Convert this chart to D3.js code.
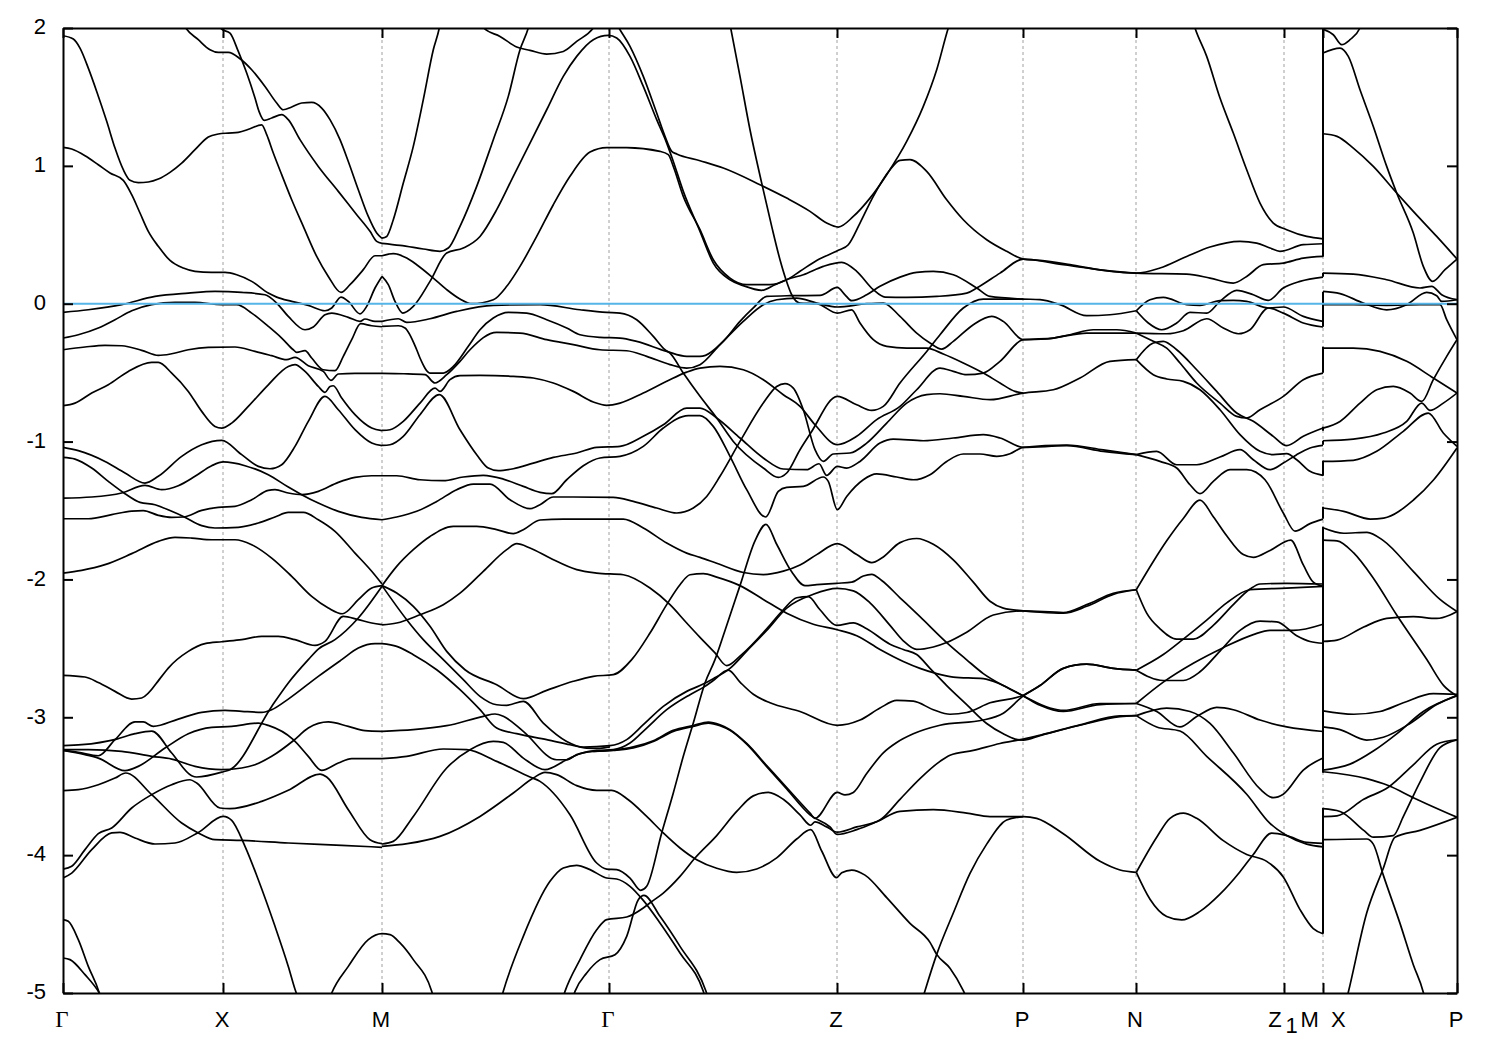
<!DOCTYPE html>
<html><head><meta charset="utf-8">
<style>html,body{margin:0;padding:0;background:#fff}svg{display:block}text{fill:#000}</style>
<script src="https://cdn.jsdelivr.net/npm/d3@7"></script>
</head><body><svg id="c" width="1500" height="1050"></svg>
<script>
const kTicks=[0,1.6,3.19,5.46,7.74,9.6,10.73,12.21,12.6,13.94];
const energyTicks=[-5,-4,-3,-2,-1,0,1,2];
const fermiLevel=0;
const jumps=[[2,.341],[.225,.196],[.087,-.167],[-.312,-.5],[-.892,-.921],[-.994,-1.023],[-1.139,-1.248],[-1.473,-1.56],[-1.618,-3.402],[-3.656,-4.57]];
const p1a=[[0,1.944],[.103,1.92],[.17,1.854],[.253,1.709],[.337,1.54],[.437,1.323],[.52,1.129],[.603,.972],[.67,.895],[.753,.878],[.853,.883],[.953,.904],[1.07,.953],[1.187,1.02],[1.32,1.117],[1.453,1.209],[1.553,1.231],[1.653,1.238],[1.753,1.243],[1.87,1.269],[1.987,1.298],[2.037,1.226],[2.103,1.093],[2.187,.936],[2.287,.754],[2.403,.561],[2.537,.343],[2.653,.198],[2.78,.082],[2.87,.138],[3.003,.247],[3.12,.348],[3.19,.348]];
const p1b=[[1.5,2.1],[1.587,1.992],[1.67,1.963],[1.753,1.83],[1.837,1.673],[1.92,1.492],[1.96,1.395],[2.013,1.33],[2.087,1.347],[2.187,1.371],[2.253,1.335],[2.37,1.19],[2.553,.996],[2.753,.815],[2.937,.646],[3.07,.525],[3.137,.452],[3.19,.438]];
const p1c=[[1.15,2.1],[1.22,2.007],[1.353,1.915],[1.47,1.842],[1.553,1.823],[1.653,1.823],[1.77,1.777],[1.887,1.697],[2.02,1.576],[2.137,1.456],[2.203,1.407],[2.287,1.427],[2.387,1.456],[2.487,1.46],[2.587,1.419],[2.67,1.335],[2.77,1.19],[2.853,1.032],[2.953,.827],[3.053,.633],[3.137,.513],[3.19,.474]];
const p1d=[[0,1.134],[.087,1.122],[.22,1.074],[.353,1.008],[.47,.948],[.603,.895],[.687,.791],[.77,.658],[.853,.525],[.953,.416],[1.07,.314],[1.203,.259],[1.32,.235],[1.487,.227],[1.62,.227],[1.737,.21],[1.887,.162],[2.053,.077],[2.137,.048],[2.287,.017],[2.453,-.012],[2.62,-.051],[2.687,-.031],[2.78,.048],[2.853,.017],[2.97,-.073],[3.037,-.019],[3.12,.114],[3.19,.198]];
const p1e=[[0,-.063],[.253,-.044],[.587,-.007],[.92,.053],[1.253,.077],[1.52,.089],[1.787,.082],[2.02,.065],[2.137,.005],[2.253,-.092],[2.42,-.189],[2.503,-.169],[2.62,-.08],[2.687,-.068],[2.853,-.099],[2.97,-.128],[3.02,-.111],[3.12,-.128],[3.19,-.128]];
const p1f=[[0,-.249],[.153,-.225],[.353,-.176],[.52,-.116],[.687,-.051],[.887,-.007],[1.12,.01],[1.32,.01],[1.587,-.007],[1.737,-.007],[1.887,-.068],[2.053,-.164],[2.187,-.249],[2.303,-.334],[2.337,-.353],[2.42,-.341],[2.487,-.394],[2.603,-.479],[2.72,-.486],[2.803,-.382],[2.887,-.261],[2.977,-.145],[3.087,-.16],[3.19,-.167]];
const p1g=[[0,-.334],[.22,-.314],[.42,-.302],[.587,-.305],[.787,-.338],[.953,-.375],[1.087,-.363],[1.253,-.334],[1.453,-.317],[1.72,-.314],[1.92,-.346],[2.087,-.377],[2.237,-.406],[2.32,-.389],[2.453,-.45],[2.603,-.491],[2.68,-.556],[2.753,-.51],[2.92,-.505],[3.19,-.505]];
const p1h=[[0,-.74],[.12,-.721],[.287,-.648],[.453,-.588],[.653,-.491],[.887,-.426],[.953,-.426],[1.087,-.503],[1.253,-.636],[1.387,-.781],[1.52,-.89],[1.587,-.902],[1.687,-.866],[1.853,-.745],[2.053,-.588],[2.253,-.455],[2.32,-.442],[2.42,-.491],[2.553,-.6],[2.62,-.643],[2.67,-.6],[2.703,-.595],[2.787,-.684],[2.92,-.805],[3.087,-.902],[3.19,-.921]];
const p1i=[[0,-1.042],[.153,-1.066],[.42,-1.144],[.62,-1.228],[.82,-1.301],[.953,-1.252],[1.187,-1.107],[1.387,-1.023],[1.587,-.991],[1.787,-1.095],[1.953,-1.18],[2.07,-1.197],[2.187,-1.168],[2.32,-1.035],[2.453,-.853],[2.62,-.672],[2.753,-.769],[2.92,-.914],[3.087,-1.011],[3.19,-1.03]];
const p1j=[[0,-1.115],[.12,-1.127],[.287,-1.192],[.453,-1.289],[.62,-1.378],[.77,-1.441],[.92,-1.458],[1.087,-1.506],[1.203,-1.543],[1.387,-1.61],[1.52,-1.627],[1.753,-1.622],[1.953,-1.591],[2.12,-1.547],[2.253,-1.514],[2.403,-1.514],[2.553,-1.567],[2.72,-1.651],[2.92,-1.809],[3.087,-1.941],[3.19,-2.033]];
const p1k=[[0,-1.41],[.287,-1.402],[.587,-1.373],[.82,-1.318],[.987,-1.349],[1.153,-1.32],[1.32,-1.252],[1.487,-1.175],[1.603,-1.148],[1.82,-1.175],[2.053,-1.24],[2.253,-1.33],[2.387,-1.385],[2.553,-1.446],[2.753,-1.506],[2.987,-1.55],[3.19,-1.567]];
const p1l=[[0,-1.56],[.253,-1.56],[.487,-1.53],[.687,-1.504],[.803,-1.501],[.953,-1.535],[1.087,-1.55],[1.203,-1.547],[1.387,-1.499],[1.553,-1.477],[1.72,-1.47],[1.887,-1.422],[2.053,-1.354],[2.12,-1.349],[2.253,-1.373],[2.387,-1.385],[2.553,-1.361],[2.753,-1.296],[2.92,-1.26],[3.087,-1.248],[3.19,-1.248]];
const p1m=[[0,-1.954],[.187,-1.934],[.42,-1.893],[.687,-1.813],[.953,-1.724],[1.12,-1.695],[1.287,-1.7],[1.487,-1.712],[1.72,-1.712],[1.887,-1.748],[2.087,-1.845],[2.287,-1.978],[2.487,-2.123],[2.653,-2.207],[2.793,-2.249],[2.953,-2.147],[3.087,-2.062],[3.19,-2.045]];
const p1n=[[0,-2.696],[.22,-2.708],[.353,-2.747],[.52,-2.812],[.687,-2.868],[.787,-2.86],[.987,-2.703],[1.053,-2.643],[1.253,-2.522],[1.42,-2.466],[1.587,-2.452],[1.787,-2.437],[1.987,-2.413],[2.153,-2.413],[2.32,-2.437],[2.52,-2.478],[2.62,-2.449],[2.803,-2.268],[2.953,-2.292],[3.087,-2.316],[3.19,-2.328]];
const p1o=[[0,-3.206],[.187,-3.199],[.537,-3.158],[.72,-3.119],[.887,-3.1],[1.087,-3.259],[1.287,-3.424],[1.337,-3.433],[1.603,-3.395],[1.67,-3.38],[2.087,-2.921],[2.253,-2.751],[2.453,-2.582],[2.553,-2.505],[2.72,-2.437],[2.953,-2.28],[3.19,-2.05]];
const p1p=[[0,-3.24],[.153,-3.254],[.353,-3.279],[.52,-3.162],[.72,-3.034],[.803,-3.034],[.903,-3.066],[1.153,-3.013],[1.387,-2.964],[1.62,-2.95],[1.787,-2.957],[1.987,-2.964],[2.087,-2.945],[2.253,-2.868],[2.553,-2.703],[2.787,-2.582],[2.953,-2.498],[3.12,-2.466],[3.19,-2.466]];
const p1q=[[0,-3.235],[.253,-3.235],[.587,-3.247],[.887,-3.283],[1.087,-3.303],[1.32,-3.356],[1.587,-3.38],[1.787,-3.368],[1.92,-3.344],[2.087,-3.283],[2.303,-3.17],[2.453,-3.078],[2.653,-3.034],[2.853,-3.066],[3.02,-3.097],[3.19,-3.102]];
const p1r=[[0,-3.24],[.22,-3.271],[.353,-3.296],[.62,-3.387],[.753,-3.356],[1.02,-3.223],[1.253,-3.119],[1.487,-3.073],[1.687,-3.066],[1.953,-3.042],[2.053,-3.059],[2.303,-3.162],[2.453,-3.283],[2.587,-3.385],[2.753,-3.332],[2.887,-3.3],[3.19,-3.3]];
const p1s=[[0,-3.532],[.153,-3.525],[.353,-3.489],[.52,-3.441],[.627,-3.404],[.887,-3.561],[1.187,-3.767],[1.353,-3.839],[1.52,-3.888],[1.787,-3.893],[2.253,-3.912],[2.787,-3.929],[3.19,-3.943]];
const p1t=[[0,-4.101],[.087,-4.081],[.22,-3.96],[.353,-3.844],[.487,-3.803],[.687,-3.658],[.887,-3.561],[1.087,-3.489],[1.27,-3.453],[1.337,-3.477],[1.57,-3.658],[1.67,-3.663],[1.987,-3.61],[2.253,-3.53],[2.57,-3.412],[2.637,-3.433],[2.853,-3.67],[3.07,-3.888],[3.19,-3.917]];
const p1u=[[0,-4.166],[.087,-4.13],[.287,-3.96],[.487,-3.839],[.57,-3.835],[.72,-3.876],[.92,-3.919],[1.12,-3.912],[1.353,-3.835],[1.603,-3.719],[1.687,-3.748],[1.82,-3.936],[1.953,-4.178],[2.12,-4.516],[2.253,-4.807],[2.327,-4.988],[2.37,-5.07]];
const p1v=[[0,-4.468],[.053,-4.48],[.153,-4.613],[.253,-4.807],[.363,-5],[.4,-5.1]];
const p1w=[[0,-4.746],[.07,-4.758],[.22,-4.867],[.363,-5],[.4,-5.05]];
const p1x=[[2.65,-5.07],[2.687,-5],[2.853,-4.807],[3.053,-4.613],[3.19,-4.57],[3.27,-4.577],[3.37,-4.637],[3.503,-4.758],[3.687,-4.988],[3.73,-5.1]];
const p2a=[[3.19,.476],[3.237,.488],[3.303,.609],[3.403,.875],[3.503,1.141],[3.603,1.48],[3.703,1.842],[3.763,2],[3.8,2.15]];
const p2b=[[3.19,.438],[3.37,.423],[3.603,.397],[3.77,.38],[3.853,.404],[3.97,.561],[4.137,.851],[4.303,1.19],[4.453,1.504],[4.57,1.842],[4.653,2],[4.69,2.1]];
const p2c=[[3.19,.348],[3.303,.363],[3.437,.331],[3.537,.283],[3.703,.186],[3.837,.102],[3.97,.034],[4.087,0],[4.303,.029],[4.437,.126],[4.57,.271],[4.737,.488],[4.903,.718],[5.07,.924],[5.27,1.1],[5.437,1.132],[5.637,1.132],[5.97,1.105],[6.053,1.081],[6.103,.996],[6.203,.779],[6.37,.537],[6.503,.319],[6.67,.186],[6.837,.138],[7.07,.138],[7.237,.174],[7.37,.235],[7.537,.314],[7.753,.387],[7.853,.428],[7.97,.585],[8.103,.779],[8.27,.972],[8.37,1.04],[8.47,1.045],[8.637,.96],[8.837,.754],[9.003,.609],[9.237,.464],[9.437,.38],[9.603,.324],[9.77,.314],[10.07,.283],[10.403,.242],[10.733,.222],[10.97,.259],[11.237,.343],[11.47,.411],[11.77,.452],[11.937,.44],[12.07,.404],[12.17,.38],[12.403,.428],[12.6,.435]];
const p2d=[[3.19,.198],[3.253,.138],[3.32,.017],[3.397,-.068],[3.503,-.019],[3.67,.162],[3.837,.368],[4.003,.404],[4.17,.488],[4.337,.682],[4.503,.924],[4.67,1.165],[4.837,1.407],[5.003,1.649],[5.137,1.794],[5.303,1.915],[5.453,1.946],[5.537,1.927],[5.67,1.794],[5.803,1.576],[5.937,1.335],[6.037,1.165],[6.103,1.032],[6.203,.815],[6.37,.525],[6.503,.295],[6.67,.174],[6.803,.131],[6.987,.097],[7.12,.138],[7.253,.179],[7.403,.21],[7.603,.271],[7.787,.3],[7.937,.235],[8.103,.102],[8.22,.048],[8.437,.046],[8.737,.053],[9.037,.077],[9.137,.114],[9.37,.222],[9.603,.324],[9.903,.295],[10.237,.259],[10.733,.222],[11.237,.215],[11.47,.186],[11.703,.15],[11.837,.198],[12.003,.283],[12.203,.295],[12.403,.331],[12.6,.343]];
const p2e=[[5.5,2.08],[5.56,2],[5.67,1.867],[5.803,1.649],[5.937,1.383],[6.02,1.214],[6.087,1.105],[6.137,1.086],[6.37,1.037],[6.603,.984],[6.97,.863],[7.237,.766],[7.47,.67],[7.637,.585],[7.753,.556],[7.903,.633],[8.07,.766],[8.237,.936],[8.437,1.177],[8.603,1.431],[8.737,1.697],[8.853,2],[8.9,2.1]];
const p2f=[[3.19,-.128],[3.353,-.109],[3.437,-.135],[3.67,-.109],[3.937,-.056],[4.303,-.012],[4.77,-.007],[5.17,-.044],[5.437,-.063],[5.57,-.068],[5.737,-.116],[5.903,-.237],[6.02,-.334],[6.07,-.358],[6.203,-.503],[6.37,-.672],[6.537,-.829],[6.703,-.999],[7.003,-1.192],[7.153,-1.26],[7.237,-1.228],[7.37,-1.059],[7.477,-.938],[7.743,-.672],[7.937,-.733],[8.087,-.774],[8.203,-.745],[8.37,-.575],[8.637,-.346],[8.77,-.225],[9.003,-.031],[9.203,.034],[9.603,.034]];
const p2g=[[3.19,-.164],[3.353,-.16],[3.42,-.176],[3.537,-.334],[3.57,-.394],[3.67,-.503],[3.803,-.503],[3.903,-.455],[4.053,-.309],[4.17,-.189],[4.303,-.104],[4.453,-.063],[4.637,-.068],[4.837,-.116],[5.037,-.176],[5.17,-.225],[5.37,-.244],[5.57,-.249],[5.737,-.273],[6.037,-.346],[6.237,-.382],[6.37,-.382],[6.603,-.273],[6.77,-.128],[6.903,-.031],[7.037,.053],[7.27,.058],[7.57,.06],[7.743,.118],[7.82,.065],[7.887,.022],[8.037,.065],[8.17,.126],[8.37,.193],[8.537,.227],[8.703,.235],[8.903,.21],[9.137,.114],[9.27,.053],[9.603,.034],[9.77,.029],[9.97,-.007],[10.237,-.087],[10.47,-.08],[10.733,-.051]];
const p2h=[[3.19,-.505],[3.407,-.508],[3.62,-.515],[3.72,-.575],[3.837,-.515],[3.97,-.418],[4.07,-.334],[4.337,-.208],[4.57,-.213],[4.837,-.261],[5.103,-.297],[5.37,-.334],[5.637,-.341],[5.837,-.382],[6.07,-.442],[6.237,-.467],[6.37,-.442],[6.57,-.297],[6.803,-.128],[7.003,-.007],[7.137,.029],[7.337,.041],[7.537,.005],[7.743,-.024],[8.037,0],[8.203,.005],[8.37,-.092],[8.537,-.213],[8.67,-.285],[8.787,-.329],[8.903,-.273],[9.103,-.152],[9.287,-.092],[9.403,-.128],[9.603,-.261],[9.837,-.256],[10.07,-.225],[10.303,-.189],[10.537,-.189],[10.733,-.213]];
const p2i=[[3.19,-.919],[3.27,-.914],[3.403,-.853],[3.57,-.721],[3.72,-.612],[3.77,-.636],[3.87,-.551],[3.97,-.522],[4.17,-.52],[4.503,-.527],[4.703,-.539],[4.903,-.575],[5.103,-.636],[5.303,-.713],[5.437,-.737],[5.57,-.721],[5.803,-.648],[6.037,-.563],[6.237,-.496],[6.37,-.467],[6.57,-.455],[6.803,-.479],[7.003,-.551],[7.203,-.66],[7.37,-.745],[7.52,-.878],[7.743,-1.023],[7.937,-.962],[8.137,-.841],[8.37,-.745],[8.537,-.624],[8.77,-.467],[8.903,-.491],[9.037,-.515],[9.203,-.503],[9.37,-.418],[9.603,-.261],[9.903,-.249],[10.237,-.213],[10.733,-.213]];
const p2j=[[3.19,-1.028],[3.27,-1.023],[3.403,-.962],[3.57,-.805],[3.763,-.66],[3.97,-.914],[4.137,-1.095],[4.253,-1.192],[4.353,-1.211],[4.503,-1.197],[4.703,-1.156],[4.903,-1.115],[5.137,-1.083],[5.337,-1.042],[5.57,-1.035],[5.803,-.962],[6.003,-.878],[6.237,-.757],[6.37,-.757],[6.537,-.829],[6.77,-.974],[7.003,-1.119],[7.203,-1.199],[7.437,-1.204],[7.56,-1.161],[7.637,-1.245],[7.743,-1.18],[7.837,-1.192],[7.97,-1.144],[8.17,-1.011],[8.303,-.982],[8.603,-.994],[8.903,-.974],[9.203,-.95],[9.37,-.974],[9.603,-1.042],[10.037,-1.03],[10.403,-1.071],[10.733,-1.095]];
const p2k=[[3.19,-1.248],[3.337,-1.248],[3.57,-1.277],[3.803,-1.284],[4.003,-1.257],[4.203,-1.245],[4.403,-1.272],[4.603,-1.325],[4.77,-1.368],[4.887,-1.378],[5.037,-1.277],[5.203,-1.175],[5.37,-1.119],[5.57,-1.107],[5.803,-1.035],[6.003,-.902],[6.253,-.812],[6.37,-.812],[6.503,-.89],[6.67,-1.107],[6.837,-1.349],[7.027,-1.547],[7.153,-1.361],[7.237,-1.332],[7.403,-1.325],[7.603,-1.257],[7.653,-1.289],[7.743,-1.494],[7.837,-1.398],[8.003,-1.277],[8.137,-1.235],[8.337,-1.257],[8.503,-1.277],[8.67,-1.24],[8.837,-1.144],[9.003,-1.09],[9.17,-1.09],[9.337,-1.107],[9.47,-1.088],[9.603,-1.042],[10.037,-1.025],[10.403,-1.06],[10.733,-1.095]];
const p2l=[[3.19,-1.567],[3.337,-1.547],[3.537,-1.506],[3.737,-1.434],[3.937,-1.349],[4.103,-1.308],[4.27,-1.308],[4.47,-1.422],[4.67,-1.487],[4.77,-1.458],[4.903,-1.402],[5.103,-1.402],[5.503,-1.405],[5.703,-1.434],[5.937,-1.482],[6.137,-1.518],[6.303,-1.482],[6.437,-1.398],[6.57,-1.252],[6.77,-.999],[7.003,-.721],[7.137,-.6],[7.22,-.58],[7.303,-.612],[7.403,-.769],[7.52,-1.059],[7.603,-1.144],[7.703,-1.09],[7.87,-1.083],[8.037,-1.011],[8.237,-.866],[8.437,-.721],[8.637,-.66],[8.77,-.653],[9.003,-.672],[9.27,-.696],[9.603,-.648],[9.903,-.624],[10.17,-.539],[10.47,-.418],[10.733,-.406]];
const p2m=[[6.65,2.1],[6.677,2],[6.77,1.649],[6.87,1.262],[6.987,.875],[7.087,.561],[7.17,.319],[7.23,.174],[7.287,.065],[7.37,.005],[7.537,0],[7.743,-.068],[7.887,-.044],[7.97,-.14],[8.103,-.261],[8.237,-.309],[8.437,-.322],[8.637,-.322],[8.803,-.365],[9.003,-.43],[9.203,-.503],[9.37,-.575],[9.52,-.636],[9.603,-.648]];
const p2n=[[3.19,-2.045],[3.337,-1.905],[3.503,-1.784],[3.67,-1.688],[3.903,-1.615],[4.137,-1.615],[4.337,-1.639],[4.503,-1.668],[4.603,-1.639],[4.77,-1.569],[5.003,-1.562],[5.603,-1.562],[5.803,-1.627],[6.037,-1.736],[6.237,-1.809],[6.37,-1.84],[6.537,-1.883],[6.803,-1.95],[7.003,-1.965],[7.203,-1.94],[7.37,-1.895],[7.537,-1.82],[7.743,-1.74],[7.937,-1.82],[8.087,-1.878],[8.187,-1.845],[8.37,-1.733],[8.537,-1.703],[8.703,-1.745],[8.903,-1.858],[9.103,-2.02],[9.27,-2.158],[9.403,-2.208],[9.603,-2.228],[9.77,-2.238],[10.003,-2.245],[10.237,-2.195],[10.503,-2.108],[10.733,-2.075]];
const p2o=[[3.19,-2.329],[3.337,-2.316],[3.57,-2.256],[3.803,-2.183],[3.97,-2.099],[4.203,-1.941],[4.437,-1.784],[4.537,-1.741],[4.67,-1.772],[4.87,-1.845],[5.137,-1.929],[5.337,-1.954],[5.603,-1.966],[5.87,-2.062],[6.07,-2.183],[6.237,-2.316],[6.37,-2.42],[6.52,-2.533],[6.637,-2.625],[6.787,-2.545],[7.037,-2.358],[7.203,-2.22],[7.337,-2.133],[7.453,-2.125],[7.57,-2.22],[7.737,-2.333],[7.903,-2.315],[8.037,-2.358],[8.27,-2.47],[8.403,-2.508],[8.537,-2.545],[8.67,-2.645],[8.837,-2.77],[9.037,-2.908],[9.237,-3.045],[9.403,-3.12],[9.52,-3.158],[9.603,-3.165],[9.77,-3.133],[10.17,-3.058],[10.57,-2.995],[10.733,-2.988]];
const p2p=[[3.19,-2.045],[3.337,-2.099],[3.503,-2.195],[3.67,-2.34],[3.837,-2.522],[4.02,-2.655],[4.337,-2.764],[4.603,-2.865],[4.837,-2.805],[5.103,-2.739],[5.303,-2.703],[5.503,-2.691],[5.687,-2.582],[5.87,-2.389],[6.037,-2.183],[6.17,-2.038],[6.27,-1.966],[6.403,-1.958],[6.537,-1.983],[6.77,-2.045],[7.003,-2.145],[7.237,-2.245],[7.503,-2.325],[7.743,-2.365],[7.937,-2.408],[8.17,-2.508],[8.403,-2.595],[8.57,-2.645],[8.737,-2.683],[8.903,-2.708],[9.203,-2.72],[9.37,-2.758],[9.603,-2.845],[9.87,-2.933],[10.003,-2.95],[10.37,-2.9],[10.733,-2.9]];
const p2q=[[3.19,-2.045],[3.437,-2.292],[3.603,-2.437],[3.803,-2.582],[4.003,-2.727],[4.17,-2.848],[4.337,-2.909],[4.437,-2.913],[4.603,-2.884],[4.803,-3.042],[5.037,-3.175],[5.203,-3.216],[5.47,-3.206],[5.637,-3.162],[5.803,-3.054],[6.003,-2.921],[6.237,-2.812],[6.37,-2.77],[6.503,-2.72],[6.67,-2.645],[6.837,-2.52],[7.037,-2.37],[7.237,-2.208],[7.503,-2.108],[7.743,-2.065],[7.903,-2.083],[8.07,-2.17],[8.27,-2.333],[8.403,-2.445],[8.537,-2.508],[8.703,-2.49],[8.837,-2.458],[9.037,-2.383],[9.303,-2.258],[9.603,-2.228],[10.003,-2.24],[10.237,-2.183],[10.503,-2.1],[10.733,-2.075]];
const p2r=[[3.19,-3.102],[3.503,-3.09],[3.837,-3.061],[4.203,-2.993],[4.32,-2.976],[4.403,-2.993],[4.603,-3.102],[4.937,-3.308],[5.037,-3.308],[5.137,-3.271],[5.303,-3.247],[5.503,-3.24],[5.703,-3.223],[5.903,-3.175],[6.103,-3.102],[6.303,-3.066],[6.453,-3.042],[6.57,-3.061],[6.67,-3.095],[6.837,-3.195],[7.037,-3.358],[7.237,-3.52],[7.47,-3.708],[7.67,-3.795],[7.743,-3.85],[7.937,-3.815],[8.137,-3.758],[8.37,-3.683],[8.703,-3.67],[9.037,-3.695],[9.27,-3.72],[9.603,-3.72],[9.737,-3.733],[10.003,-3.845],[10.37,-4.045],[10.57,-4.108],[10.733,-4.125]];
const p2s=[[3.19,-3.919],[3.303,-3.9],[3.503,-3.719],[3.837,-3.368],[4.07,-3.235],[4.303,-3.175],[4.403,-3.182],[4.603,-3.296],[4.82,-3.38],[5.037,-3.308],[5.17,-3.264],[5.337,-3.24],[5.503,-3.235],[5.67,-3.187],[5.837,-3.078],[6.037,-2.945],[6.27,-2.836],[6.42,-2.776],[6.503,-2.733],[6.653,-2.658],[6.77,-2.745],[6.903,-2.833],[7.07,-2.895],[7.37,-2.958],[7.743,-3.058],[7.97,-3.02],[8.17,-2.933],[8.337,-2.878],[8.503,-2.883],[8.703,-2.945],[8.87,-2.978],[9.037,-2.965],[9.27,-2.895],[9.603,-2.84],[9.77,-2.77],[10.003,-2.645],[10.237,-2.615],[10.503,-2.645],[10.733,-2.658]];
const p2t=[[3.19,-3.936],[3.443,-3.917],[3.77,-3.864],[4.17,-3.719],[4.503,-3.549],[4.703,-3.441],[4.82,-3.399],[4.937,-3.416],[5.137,-3.496],[5.337,-3.53],[5.487,-3.53],[5.653,-3.598],[5.837,-3.719],[6.003,-3.839],[6.17,-3.948],[6.337,-4.033],[6.537,-4.095],[6.737,-4.125],[6.937,-4.1],[7.137,-4.02],[7.337,-3.883],[7.477,-3.815],[7.587,-3.97],[7.737,-4.163],[7.787,-4.128],[7.887,-4.108],[8.02,-4.145],[8.237,-4.308],[8.47,-4.495],[8.67,-4.633],[8.737,-4.72],[8.87,-4.82],[9.003,-4.983],[9.1,-5.15]];
const p2u=[[4.97,-5.1],[5.02,-4.988],[5.17,-4.758],[5.337,-4.541],[5.437,-4.468],[5.637,-4.449],[5.803,-4.383],[5.877,-4.342],[6.003,-4.275],[6.17,-4.154],[6.32,-4.021],[6.537,-3.858],[6.737,-3.683],[6.903,-3.57],[7.053,-3.545],[7.203,-3.595],[7.37,-3.708],[7.477,-3.783],[7.52,-3.758],[7.637,-3.795],[7.743,-3.833],[7.937,-3.795],[8.17,-3.745],[8.37,-3.595],[8.57,-3.445],[8.77,-3.32],[8.87,-3.275],[9.103,-3.24],[9.37,-3.19],[9.603,-3.158],[9.77,-3.13],[10.17,-3.055],[10.57,-2.99],[10.733,-2.988]];
const p2v=[[5.07,-5.1],[5.12,-4.988],[5.237,-4.855],[5.37,-4.758],[5.52,-4.722],[5.637,-4.589],[5.753,-4.323],[5.81,-4.292],[5.97,-4.444],[6.17,-4.662],[6.43,-4.988],[6.5,-5.15]];
const p2w=[[4.36,-5.1],[4.403,-4.988],[4.603,-4.589],[4.87,-4.19],[5.003,-4.093],[5.137,-4.074],[5.27,-4.105],[5.437,-4.166],[5.537,-4.173],[5.67,-4.226],[5.803,-4.328],[5.97,-4.492],[6.17,-4.71],[6.403,-4.988],[6.47,-5.15]];
const p2x=[[3.19,-3.3],[3.437,-3.283],[3.803,-3.23],[4.037,-3.235],[4.337,-3.32],[4.67,-3.433],[4.77,-3.465],[4.903,-3.549],[5.07,-3.707],[5.337,-4.057],[5.437,-4.101],[5.537,-4.105],[5.67,-4.166],[5.777,-4.255],[5.837,-4.226],[5.987,-3.839],[6.103,-3.549],[6.203,-3.283],[6.303,-3.042],[6.42,-2.751],[6.52,-2.582],[6.62,-2.37],[6.77,-2.045],[6.92,-1.72],[7.03,-1.6],[7.137,-1.745],[7.287,-1.945],[7.42,-2.045],[7.537,-2.038],[7.737,-2.028],[7.887,-2.02],[8.003,-1.975],[8.087,-1.963],[8.187,-2.008],[8.37,-2.133],[8.57,-2.27],[8.837,-2.458],[9.037,-2.583],[9.203,-2.683],[9.437,-2.783],[9.603,-2.845],[9.77,-2.913],[10.003,-2.958],[10.37,-2.908],[10.733,-2.9]];
const p2y=[[4.1,2.12],[4.207,2],[4.37,1.939],[4.537,1.862],[4.67,1.838],[4.837,1.811],[5.003,1.83],[5.137,1.903],[5.303,2],[5.4,2.12]];
const p2z=[[3.19,-2.466],[3.337,-2.486],[3.503,-2.546],[3.737,-2.655],[3.97,-2.8],[4.17,-2.945],[4.337,-3.078],[4.537,-3.119],[4.837,-3.162],[5.07,-3.199],[5.237,-3.223],[5.37,-3.225],[5.47,-3.215]];
const p3a=[[5.303,-3.247],[5.503,-3.238],[5.703,-3.215],[5.903,-3.17],[6.103,-3.095],[6.303,-3.06],[6.453,-3.035],[6.57,-3.055],[6.67,-3.09],[6.837,-3.19],[7.037,-3.35],[7.237,-3.51],[7.47,-3.695],[7.52,-3.733],[7.743,-3.545],[7.82,-3.563],[7.903,-3.545],[8.037,-3.408],[8.203,-3.258],[8.337,-3.183],[8.503,-3.12],[8.77,-3.058],[9.203,-3.02],[9.403,-2.97],[9.603,-2.845],[9.77,-2.77],[10.003,-2.645],[10.237,-2.615],[10.503,-2.645],[10.733,-2.658]];
const p3b=[[8.55,-5.15],[8.62,-4.983],[8.737,-4.72],[8.903,-4.42],[9.07,-4.133],[9.237,-3.92],[9.437,-3.745],[9.603,-3.72]];
const p5a=[[11.27,2.12],[11.32,2],[11.437,1.794],[11.57,1.492],[11.703,1.238],[11.837,.972],[11.97,.73],[12.103,.585],[12.237,.537],[12.437,.488],[12.6,.471]];
const p5b=[[10.733,-.051],[10.853,-.14],[10.987,-.189],[11.137,-.14],[11.27,-.063],[11.437,-.068],[11.57,.017],[11.737,.097],[11.903,.065],[12.053,.024],[12.203,.114],[12.37,.162],[12.6,.193]];
const p5c=[[10.733,-.051],[10.87,.029],[11.003,.046],[11.237,-.007],[11.37,-.012],[11.57,.022],[11.703,.024],[11.837,.017],[12.053,-.031],[12.203,-.024],[12.403,-.092],[12.6,-.128]];
const p5d=[[10.733,-.213],[11.037,-.218],[11.203,-.196],[11.437,-.109],[11.603,-.176],[11.753,-.218],[11.87,-.189],[12.053,-.031],[12.203,-.068],[12.403,-.14],[12.6,-.169]];
const p5e=[[10.733,-.213],[10.903,-.273],[11.037,-.322],[11.17,-.43],[11.337,-.575],[11.57,-.721],[11.737,-.817],[11.837,-.829],[11.97,-.769],[12.203,-.672],[12.403,-.551],[12.6,-.503]];
const p5f=[[10.733,-.406],[10.903,-.285],[11.003,-.273],[11.137,-.334],[11.337,-.479],[11.537,-.636],[11.737,-.793],[11.903,-.853],[12.103,-.962],[12.237,-1.03],[12.403,-.962],[12.6,-.902]];
const p5g=[[10.733,-.406],[10.903,-.515],[11.037,-.546],[11.203,-.563],[11.37,-.624],[11.57,-.769],[11.77,-.95],[11.97,-1.071],[12.103,-1.095],[12.237,-1.088],[12.337,-1.132],[12.47,-1.216],[12.6,-1.245]];
const p5h=[[10.733,-1.095],[10.937,-1.071],[11.137,-1.168],[11.337,-1.168],[11.57,-1.112],[11.77,-1.059],[11.903,-1.132],[12.07,-1.204],[12.203,-1.156],[12.337,-1.095],[12.47,-1.047],[12.6,-1.028]];
const p5i=[[10.733,-1.095],[10.97,-1.144],[11.137,-1.192],[11.27,-1.313],[11.37,-1.378],[11.503,-1.289],[11.67,-1.204],[11.837,-1.204],[12.02,-1.277],[12.203,-1.518],[12.32,-1.65],[12.47,-1.595],[12.6,-1.563]];
const p5j=[[10.733,-2.075],[10.903,-1.87],[11.037,-1.72],[11.203,-1.558],[11.37,-1.425],[11.503,-1.545],[11.637,-1.683],[11.803,-1.82],[11.903,-1.84],[12.07,-1.79],[12.277,-1.715],[12.403,-1.895],[12.503,-2.02],[12.6,-2.05]];
const p5k=[[10.733,-2.075],[10.837,-2.245],[10.97,-2.358],[11.137,-2.433],[11.303,-2.433],[11.503,-2.333],[11.703,-2.183],[11.87,-2.07],[11.97,-2.033],[12.237,-2.028],[12.6,-2.033]];
const p5l=[[10.733,-2.658],[11.003,-2.545],[11.203,-2.433],[11.437,-2.295],[11.637,-2.17],[11.87,-2.075],[12.237,-2.063],[12.6,-2.05]];
const p5m=[[10.733,-2.658],[11.003,-2.733],[11.203,-2.733],[11.37,-2.67],[11.57,-2.52],[11.77,-2.37],[11.97,-2.303],[12.137,-2.308],[12.337,-2.408],[12.47,-2.45],[12.6,-2.463]];
const p5n=[[10.733,-2.9],[11.003,-2.745],[11.303,-2.608],[11.603,-2.495],[11.903,-2.4],[12.07,-2.37],[12.303,-2.37],[12.6,-2.325]];
const p5o=[[10.733,-2.9],[10.937,-2.958],[11.17,-3.07],[11.337,-2.995],[11.537,-2.928],[11.703,-2.945],[11.97,-3.02],[12.237,-3.07],[12.6,-3.103]];
const p5p=[[10.733,-2.988],[11.037,-2.933],[11.27,-2.958],[11.47,-3.045],[11.703,-3.258],[11.97,-3.52],[12.103,-3.583],[12.203,-3.558],[12.403,-3.383],[12.6,-3.295]];
const p5q=[[10.733,-2.988],[10.937,-3.07],[11.17,-3.1],[11.437,-3.283],[11.837,-3.558],[12.07,-3.77],[12.237,-3.858],[12.437,-3.92],[12.6,-3.94]];
const p5r=[[10.733,-4.125],[10.937,-3.87],[11.07,-3.733],[11.203,-3.695],[11.337,-3.733],[11.603,-3.895],[11.837,-3.995],[12.037,-4.045],[12.203,-4.158],[12.37,-4.395],[12.503,-4.533],[12.6,-4.57]];
const p5s=[[10.733,-4.125],[10.87,-4.32],[11.037,-4.445],[11.187,-4.47],[11.37,-4.408],[11.57,-4.283],[11.77,-4.12],[11.903,-3.995],[12.087,-3.84],[12.237,-3.858],[12.437,-3.908],[12.6,-3.915]];
const r1=[[12.6,1.992],[12.703,1.951],[12.787,1.879],[12.87,1.915],[12.97,2],[13.02,2.1]];
const r2=[[12.6,1.818],[12.77,1.854],[12.853,1.794],[12.97,1.552],[13.103,1.286],[13.237,.996],[13.337,.803],[13.503,.513],[13.603,.271],[13.697,.162],[13.82,.247],[13.94,.324]];
const r3=[[12.6,1.233],[12.74,1.214],[12.903,1.129],[13.103,.996],[13.337,.803],[13.503,.67],[13.737,.488],[13.94,.324]];
const r4=[[12.6,.222],[12.903,.215],[13.237,.174],[13.57,.114],[13.687,.126],[13.787,.065],[13.94,.029]];
const r5=[[12.6,.089],[12.77,.073],[13.003,.005],[13.237,-.044],[13.437,-.007],[13.637,.082],[13.737,.058],[13.787,.017],[13.94,.029]];
const r6=[[12.6,-.007],[12.903,-.007],[13.237,-.012],[13.57,-.007],[13.77,-.007],[13.837,-.116],[13.94,-.261]];
const r7=[[12.6,-.322],[12.903,-.322],[13.17,-.346],[13.437,-.418],[13.703,-.539],[13.94,-.648]];
const r8=[[12.6,-.902],[12.77,-.854],[12.97,-.721],[13.137,-.624],[13.303,-.6],[13.47,-.648],[13.587,-.709],[13.703,-.551],[13.837,-.382],[13.94,-.261]];
const r9=[[12.6,-.994],[12.903,-.982],[13.203,-.938],[13.437,-.854],[13.587,-.721],[13.67,-.774],[13.803,-.721],[13.94,-.648]];
const r10=[[12.6,-1.144],[12.903,-1.136],[13.137,-1.071],[13.403,-.926],[13.653,-.793],[13.803,-.938],[13.94,-1.035]];
const r11=[[12.6,-1.482],[12.807,-1.506],[13.073,-1.562],[13.207,-1.555],[13.507,-1.422],[13.707,-1.277],[13.94,-1.047]];
const r12=[[12.6,-1.625],[12.807,-1.665],[13.04,-1.658],[13.207,-1.72],[13.507,-1.945],[13.77,-2.145],[13.94,-2.233]];
const r13=[[12.6,-1.715],[12.74,-1.72],[12.907,-1.808],[13.107,-1.995],[13.337,-2.258],[13.64,-2.583],[13.807,-2.77],[13.94,-2.845]];
const r14=[[12.6,-2.45],[12.74,-2.44],[13.007,-2.345],[13.237,-2.283],[13.503,-2.27],[13.737,-2.283],[13.87,-2.258],[13.94,-2.233]];
const r15=[[12.6,-2.953],[12.907,-2.978],[13.17,-2.958],[13.403,-2.895],[13.703,-2.828],[13.94,-2.833]];
const r16=[[12.6,-3.07],[12.77,-3.09],[13.037,-3.165],[13.203,-3.145],[13.47,-3.045],[13.737,-2.908],[13.94,-2.84]];
const r17=[[12.6,-3.383],[12.87,-3.34],[13.103,-3.245],[13.337,-3.12],[13.603,-2.958],[13.94,-2.845]];
const r18=[[12.6,-3.395],[13.037,-3.445],[13.253,-3.495],[13.503,-3.583],[13.94,-3.725]];
const r19=[[12.6,-3.72],[12.74,-3.715],[13.007,-3.595],[13.253,-3.508],[13.503,-3.345],[13.737,-3.195],[13.94,-3.163]];
const r20=[[12.6,-3.663],[12.77,-3.683],[13.007,-3.82],[13.103,-3.87],[13.303,-3.858],[13.403,-3.72],[13.57,-3.47],[13.77,-3.22],[13.94,-3.163]];
const r21=[[12.6,-3.888],[13.037,-3.883],[13.103,-3.92],[13.203,-4.145],[13.37,-4.495],[13.503,-4.795],[13.603,-4.995],[13.65,-5.15]];
const r22=[[12.8,-5.15],[12.853,-4.995],[13.037,-4.42],[13.203,-4.095],[13.32,-3.87],[13.57,-3.82],[13.94,-3.725]];

const bands=[p1a,p1b,p1c,p1d,p1e,p1f,p1g,p1h,p1i,p1j,p1k,p1l,p1m,p1n,p1o,p1p,p1q,p1r,p1s,p1t,p1u,p1v,p1w,p1x,
p2a,p2b,p2c,p2d,p2e,p2f,p2g,p2h,p2i,p2j,p2k,p2l,p2m,p2n,p2o,p2p,p2q,p2r,p2s,p2t,p2u,p2v,p2w,p2x,p2y,p2z,p3a,p3b,
p5a,p5b,p5c,p5d,p5e,p5f,p5g,p5h,p5i,p5j,p5k,p5l,p5m,p5n,p5o,p5p,p5q,p5r,p5s,
r1,r2,r3,r4,r5,r6,r7,r8,r9,r10,r11,r12,r13,r14,r15,r16,r17,r18,r19,r20,r21,r22];

const L=63,R=1457,T=28,B=993;
const x=d3.scaleLinear().domain([0,13.94]).range([L,R]);
const y=d3.scaleLinear().domain([-5,2]).range([B,T]);
const svg=d3.select('#c');
svg.append('defs').append('clipPath').attr('id','plot').append('rect').attr('x',L).attr('y',T).attr('width',R-L).attr('height',B-T);

// dashed k-point guides
svg.append('g').selectAll('line').data(kTicks.slice(1,-1)).join('line')
 .attr('x1',d=>x(d)).attr('x2',d=>x(d)).attr('y1',T).attr('y2',B)
 .attr('stroke','#a0a0a0').attr('stroke-width',1).attr('stroke-dasharray','3,3');

const line=d3.line().x(d=>x(d[0])).y(d=>y(d[1])).curve(d3.curveMonotoneX);
const plot=svg.append('g').attr('clip-path','url(#plot)');
plot.selectAll('path.band').data(bands).join('path').attr('class','band')
 .attr('d',line).attr('fill','none').attr('stroke','#000').attr('stroke-width',1.7).attr('stroke-linejoin','round');
plot.selectAll('line.jump').data(jumps).join('line').attr('class','jump')
 .attr('x1',x(12.6)).attr('x2',x(12.6)).attr('y1',d=>y(d[0])).attr('y2',d=>y(d[1]))
 .attr('stroke','#000').attr('stroke-width',2);
plot.append('line').attr('x1',L).attr('x2',R).attr('y1',y(fermiLevel)).attr('y2',y(fermiLevel))
 .attr('stroke','#56b4e9').attr('stroke-width',2);

// axes with inward ticks on all four sides
function style(g){g.selectAll('.domain').attr('stroke','#000').attr('stroke-width',2);
 g.selectAll('.tick line').attr('stroke','#000').attr('stroke-width',2);}
const gl=svg.append('g').attr('transform',`translate(${L},0)`)
 .call(d3.axisLeft(y).tickValues(energyTicks).tickFormat(d3.format('d')).tickSize(-10).tickPadding(17).tickSizeOuter(0)).call(style);
gl.selectAll('text').attr('font-family','"Liberation Sans",Arial,sans-serif').attr('font-size',22).attr('fill','#000').text(d=>String(d)).attr('dy','0.26em');
svg.append('g').attr('transform',`translate(${R},0)`)
 .call(d3.axisRight(y).tickValues(energyTicks).tickFormat('').tickSize(-10).tickSizeOuter(0)).call(style);
svg.append('g').attr('transform',`translate(0,${T})`)
 .call(d3.axisTop(x).tickValues(kTicks).tickFormat('').tickSize(-10).tickSizeOuter(0)).call(style);
svg.append('g').attr('transform',`translate(0,${B})`)
 .call(d3.axisBottom(x).tickValues(kTicks).tickFormat('').tickSize(-10).tickSizeOuter(0)).call(style);

// k-point labels
const sans='"Liberation Sans",Arial,sans-serif', serif='"Liberation Serif","Times New Roman",serif';
const kLabels=[[0,'Γ',serif],[1.6,'X',sans],[3.19,'M',sans],[5.46,'Γ',serif],[7.74,'Z',sans],[9.6,'P',sans],[10.73,'N',sans],[13.94,'P',sans]];
const labY=1027;
svg.append('g').selectAll('text').data(kLabels).join('text')
 .attr('x',d=>x(d[0])-1).attr('y',labY).attr('text-anchor','middle')
 .attr('font-family',d=>d[2]).attr('font-size',d=>d[2]===serif?23:22).text(d=>d[1]);
const zg=svg.append('text').attr('x',x(12.21)-1).attr('y',labY).attr('text-anchor','middle').attr('font-family',sans).attr('font-size',22);
zg.append('tspan').text('Z');
zg.append('tspan').attr('dx',4).attr('dy',6).text('1');
svg.append('text').attr('x',x(12.6)).attr('y',labY).attr('text-anchor','middle').attr('font-family',sans).attr('font-size',22).style('white-space','pre').text('M  X');
</script></body></html>
